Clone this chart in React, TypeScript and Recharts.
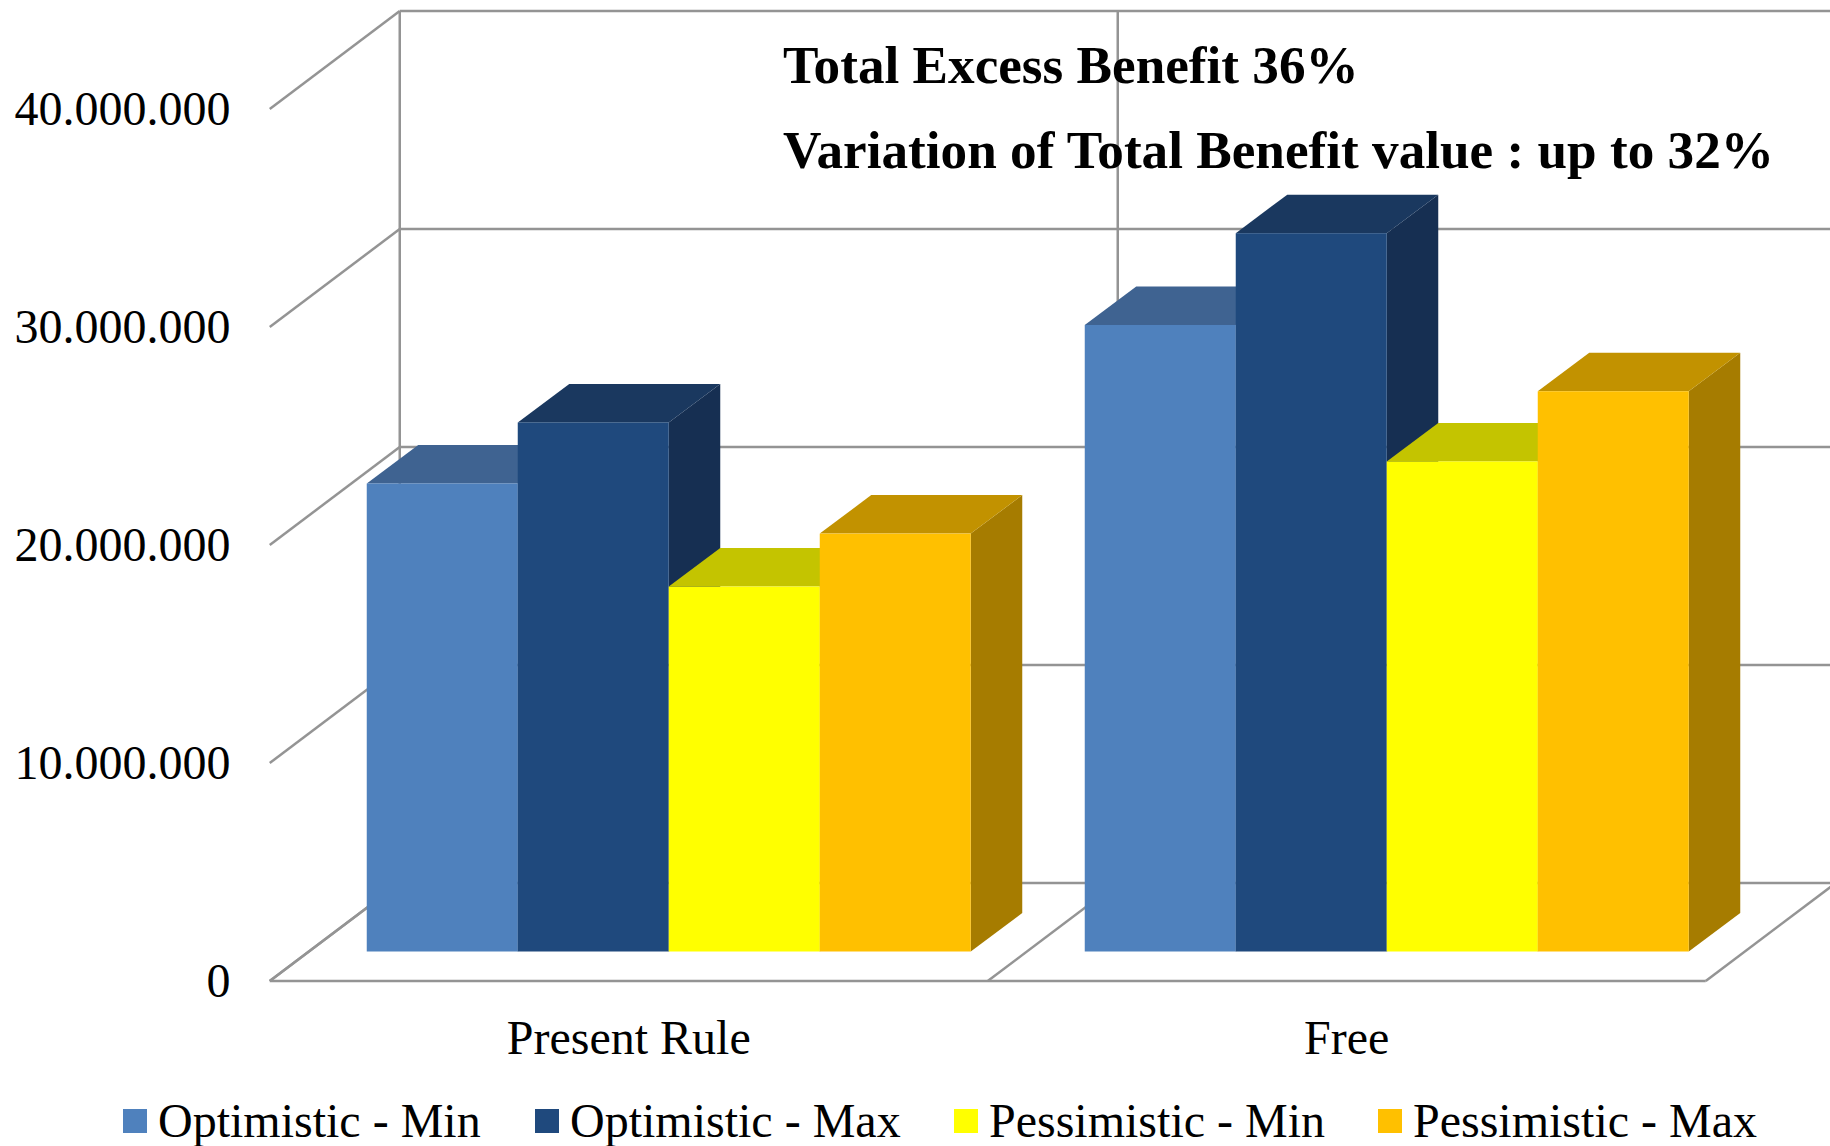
import { Bar, BarChart, CartesianGrid, Legend, XAxis, YAxis } from "recharts";

const categories = ["Present Rule", "Free"];
const optimisticMin = [21470000, 28740000];
const optimisticMax = [24270000, 32950000];
const pessimisticMin = [16740000, 22480000];
const pessimisticMax = [19170000, 25700000];
const yTicks = [0, 10000000, 20000000, 30000000, 40000000];
const notes = ["Total Excess Benefit 36%", "Variation of Total Benefit value : up to 32%"];

const rows = categories.map((name, i) => ({
  name,
  optimisticMin: optimisticMin[i],
  optimisticMax: optimisticMax[i],
  pessimisticMin: pessimisticMin[i],
  pessimisticMax: pessimisticMax[i],
}));

const series = [
  { key: "optimisticMin", label: "Optimistic - Min", front: "#4f81bd", top: "#3f6391", side: "#375a85", swatch: 123, text: 158 },
  { key: "optimisticMax", label: "Optimistic - Max", front: "#1f497d", top: "#1a385f", side: "#162f52", swatch: 535, text: 570 },
  { key: "pessimisticMin", label: "Pessimistic - Min", front: "#ffff00", top: "#c4c400", side: "#a6a600", swatch: 954, text: 989 },
  { key: "pessimisticMax", label: "Pessimistic - Max", front: "#ffc000", top: "#c29200", side: "#a67c00", swatch: 1378, text: 1413 },
];

const FONT = '"Liberation Serif", "Times New Roman", serif';
const GRID = "#949494";
const WIDTH = 1830;
const HEIGHT = 1146;
const PLOT_BOTTOM = 951;

// fake 3D: the bars stand on a plane between the floor's front edge and the back wall
const FRONT_DX = -40;
const FRONT_DY = 29.5;
const BACK_DX = 90;
const BACK_DY = -68.5;
const BAR_DX = 51.5;
const BAR_DY = -38.5;

const dotted = (v: number) => String(v).replace(/\B(?=(\d{3})+$)/g, ".");

function Cuboid(props: any) {
  const { x, y, width, height, front, top, side } = props;
  const right = x + width;
  const bottom = y + height;
  return (
    <g>
      <polygon points={`${right},${y} ${right + BAR_DX},${y + BAR_DY} ${right + BAR_DX},${bottom + BAR_DY} ${right},${bottom}`} fill={side} />
      <polygon points={`${x},${y} ${x + BAR_DX},${y + BAR_DY} ${right + BAR_DX},${y + BAR_DY} ${right},${y}`} fill={top} />
      <rect x={x} y={y} width={width} height={height} fill={front} />
    </g>
  );
}

// wall line plus the slanted side line for each value tick
function WallLine(p: any) {
  const { x1, x2, y1 } = p;
  return (
    <g key={p.key} stroke={GRID} strokeWidth={2.5} fill="none">
      <line x1={x1 + BACK_DX} y1={y1 + BACK_DY} x2={WIDTH + 10} y2={y1 + BACK_DY} />
      <line x1={x1 + FRONT_DX} y1={y1 + FRONT_DY} x2={x1 + BACK_DX} y2={y1 + BACK_DY} />
      {y1 >= PLOT_BOTTOM - 1 && <line x1={x1 + FRONT_DX} y1={y1 + FRONT_DY} x2={x2 + FRONT_DX} y2={y1 + FRONT_DY} />}
    </g>
  );
}

// floor divider and wall upright at each category boundary
function CategoryLine(p: any) {
  const { x1, y1, y2 } = p;
  const top = Math.min(y1, y2);
  const bottom = Math.max(y1, y2);
  return (
    <g key={p.key} stroke={GRID} strokeWidth={2.5} fill="none">
      <line x1={x1 + FRONT_DX} y1={bottom + FRONT_DY} x2={x1 + BACK_DX} y2={bottom + BACK_DY} />
      <line x1={x1 + BACK_DX} y1={bottom + BACK_DY} x2={x1 + BACK_DX} y2={top + BACK_DY} />
    </g>
  );
}

function ValueTick(p: any) {
  return (
    <text x={230.5} y={p.y + 45} textAnchor="end" fontFamily={FONT} fontSize={48} fill="#000">
      {dotted(p.payload.value)}
    </text>
  );
}

function CategoryTick(p: any) {
  return (
    <text x={p.x + FRONT_DX} y={1054} textAnchor="middle" fontFamily={FONT} fontSize={48} fill="#000">
      {p.payload.value}
    </text>
  );
}

function LegendRow() {
  return (
    <div style={{ position: "relative", width: WIDTH, height: 56, fontFamily: FONT, fontSize: 48, color: "#000" }}>
      {series.map((s) => (
        <div key={s.key}>
          <span style={{ position: "absolute", left: s.swatch, top: 19, width: 24, height: 24, background: s.front }} />
          <span style={{ position: "absolute", left: s.text, top: 3, lineHeight: "56px", whiteSpace: "nowrap" }}>{s.label}</span>
        </div>
      ))}
    </div>
  );
}

export default function App() {
  return (
    <div style={{ position: "absolute", left: 0, top: 0, width: WIDTH, height: HEIGHT, background: "#fff" }}>
      <BarChart
        width={WIDTH}
        height={HEIGHT}
        data={rows}
        margin={{ top: 79.5, right: 84.25, bottom: 38.5, left: 0 }}
        barGap={0}
        barCategoryGap={57}
      >
        <CartesianGrid
          horizontal={WallLine}
          vertical={CategoryLine}
          verticalCoordinatesGenerator={({ offset }: any) =>
            [0, 1, 2].map((i) => offset.left + (i * offset.width) / categories.length)
          }
        />
        <XAxis dataKey="name" axisLine={false} tickLine={false} tick={CategoryTick} height={100} interval={0} />
        <YAxis domain={[0, 40000000]} ticks={yTicks} width={309.75} axisLine={false} tickLine={false} tick={ValueTick} interval={0} />
        <Legend content={<LegendRow />} wrapperStyle={{ left: 0, top: 1090, width: WIDTH, height: 56 }} />
        {series.map((s) => (
          <Bar
            key={s.key}
            dataKey={s.key}
            name={s.label}
            fill={s.front}
            isAnimationActive={false}
            shape={(p: any) => <Cuboid {...p} front={s.front} top={s.top} side={s.side} />}
          />
        ))}
        {notes.map((note, i) => (
          <text key={note} x={783} y={83 + i * 85} fontFamily={FONT} fontSize={53.2} fontWeight="bold" fill="#000">
            {note}
          </text>
        ))}
      </BarChart>
    </div>
  );
}
